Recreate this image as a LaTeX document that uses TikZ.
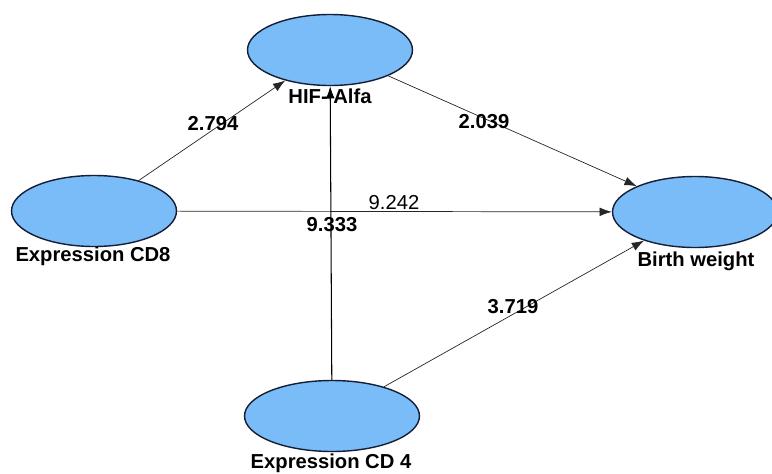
\documentclass[tikz,border=0pt]{standalone}
\usepackage{fontspec}
\setmainfont{Liberation Sans}
\usepackage{xcolor}
\usepackage{tikz}
\usetikzlibrary{arrows.meta,shapes.geometric}

\definecolor{latentblue}{RGB}{122,188,247}
\definecolor{latentline}{RGB}{20,30,55}

\begin{document}
\begin{tikzpicture}[x=0.02cm, y=-0.02cm,
    latent/.style={ellipse, draw=latentline, thick, fill=latentblue, minimum width=3.3cm, minimum height=1.42cm, inner sep=0pt},
    vname/.style={font=\fontsize{11.5}{12}\selectfont\bfseries},
    coef/.style={font=\fontsize{11.5}{12}\selectfont\bfseries},
    path/.style={-{Latex[length=7pt,width=5pt]}, black!85}]
    \useasboundingbox (0,0) rectangle (772,474);

    % Latent variables
    \node[latent] (hif) at (330,50) {};
    \node[latent] (cd8) at (94,211) {};
    \node[latent] (bw) at (695,212) {};
    \node[latent, minimum width=3.5cm] (cd4) at (332,416) {};

    \node[vname] (hiflab) at (330,96) {HIF- Alfa};
    \node[vname] (cd8lab) at (93,256) {Expression CD8};
    \node[vname] (bwlab) at (696,261) {Birth weight};
    \node[vname] (cd4lab) at (331,463) {Expression CD 4};

    % Paths
    \draw[path] (cd8) -- (hif);
    \draw[path] (hif) -- (bw);
    \draw[path] (cd8) -- (bw);
    \draw[path, black, semithick] (cd4) -- (hif);
    \draw[path] (cd4) -- (bw);

    % Path coefficients
    \node[coef] (c1) at (213,124) {2.794};
    \node[coef] (c2) at (484,122) {2.039};
    \node[font=\fontsize{11.5}{12}\selectfont] (c3) at (394,203) {9.242};
    \node[coef] (c4) at (332,225) {9.333};
    \node[coef] (c5) at (513,307) {3.719};
\end{tikzpicture}
\end{document}
